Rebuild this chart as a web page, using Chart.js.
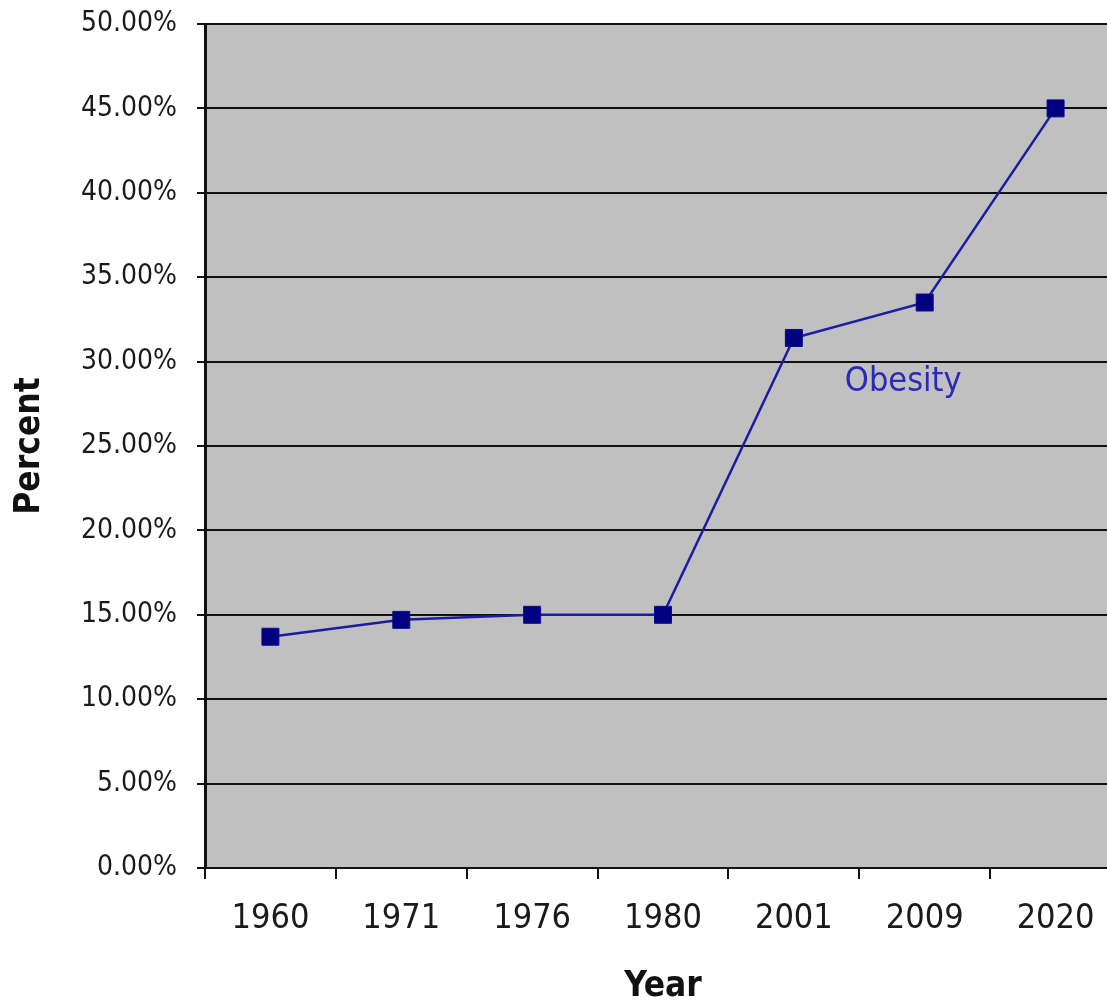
<!DOCTYPE html>
<html>
<head>
<meta charset="utf-8">
<script src="https://cdn.jsdelivr.net/npm/chart.js@4/dist/chart.umd.min.js"></script>
<style>
	html, body { margin: 0; padding: 0; background: #fff; overflow: hidden; }
	#wrap { width: 1134px; height: 1006px; position: relative; }
</style>
</head>
<body>
<div id="wrap"><canvas id="obesityChart"></canvas></div>
<script>
// chart data
const years = ["1960", "1971", "1976", "1980", "2001", "2009", "2020"];
const obesity = [13.7, 14.7, 15.0, 15.0, 31.4, 33.5, 45.0];
const seriesName = "Obesity";
const yMin = 0;
const yMax = 50;
const yStep = 5;

const FONT = "'DejaVu Sans Condensed', 'DejaVu Sans', sans-serif";

// grey plot area behind the grid
const plotBackground = {
	id: "plotBackground",
	beforeDraw(chart) {
		const a = chart.chartArea;
		const ctx = chart.ctx;
		ctx.save();
		ctx.fillStyle = "#c0c0c0";
		ctx.fillRect(a.left, a.top, a.right - a.left, a.bottom - a.top);
		ctx.restore();
	},
};

// series name written next to the line
const seriesLabel = {
	id: "seriesLabel",
	afterDatasetsDraw(chart) {
		const x = chart.scales.x;
		const y = chart.scales.y;
		const px = (x.getPixelForValue(4) + x.getPixelForValue(5)) / 2;
		const py = y.getPixelForValue(28.8);
		const ctx = chart.ctx;
		ctx.save();
		ctx.font = "34px " + FONT;
		ctx.fillStyle = "#2a2ab8";
		ctx.textAlign = "center";
		ctx.textBaseline = "middle";
		ctx.fillText(seriesName, px + 44, py);
		ctx.restore();
	},
};

function initLine(labels, data, chartElId) {
	const ctx = document.getElementById(chartElId);

	new Chart(ctx, {
		type: "line",
		data: {
			labels: labels,
			datasets: [
				{
					label: seriesName,
					data: data,
					borderColor: "#1c1ca0",
					borderWidth: 2.5,
					pointStyle: "rect",
					pointRadius: 12,
					pointHoverRadius: 12,
					pointBackgroundColor: "#000080",
					pointBorderColor: "#0a0a90",
					pointBorderWidth: 1,
					tension: 0,
				},
			],
		},
		options: {
			responsive: true,
			maintainAspectRatio: false,
			animation: false,
			layout: { padding: 0 },
			plugins: {
				legend: { display: false },
				tooltip: { enabled: false },
			},
			scales: {
				x: {
					offset: true,
					grid: {
						offset: true,
						drawOnChartArea: false,
						drawTicks: true,
						tickLength: 11,
						color: "#111",
						lineWidth: 2,
					},
					border: { display: true, color: "#111", width: 2 },
					ticks: {
						color: "#1a1a1a",
						font: { family: FONT, size: 34 },
						padding: 20,
						maxRotation: 0,
						autoSkip: false,
					},
					title: {
						display: true,
						text: "Year",
						color: "#111",
						font: { family: FONT, size: 35, weight: "bold", lineHeight: 1.0 },
						padding: { top: 0, bottom: 2 },
					},
					afterFit(scale) {
						scale.height = 138;
					},
				},
				y: {
					min: yMin,
					max: yMax,
					grid: {
						color: "#111",
						lineWidth: 2,
						tickLength: 8,
					},
					border: { display: true, color: "#111", width: 3 },
					ticks: {
						stepSize: yStep,
						color: "#1a1a1a",
						font: { family: FONT, size: 28 },
						padding: 20,
						callback: (v) => v.toFixed(2) + "%",
					},
					title: {
						display: true,
						text: "Percent",
						color: "#111",
						font: { family: FONT, size: 35, weight: "bold", lineHeight: 1.0 },
						padding: { top: 12, bottom: 0 },
					},
					afterFit(scale) {
						scale.width = 205;
						scale.paddingTop = 24;
					},
				},
			},
		},
		plugins: [plotBackground, seriesLabel],
	});
}

initLine(years, obesity, "obesityChart");
</script>
</body>
</html>
